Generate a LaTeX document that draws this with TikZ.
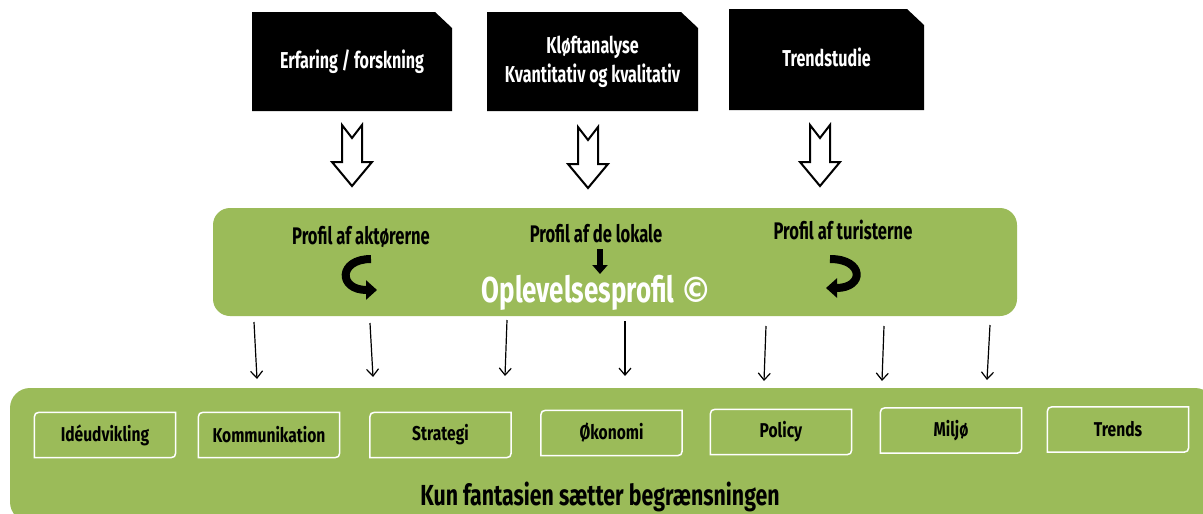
\documentclass[tikz,border=0pt]{standalone}
\usepackage{fontspec}
\setmainfont{Fira Sans}
\newfontfamily\dinA[FakeStretch=0.70,UprightFont=* Bold]{Fira Sans}
\newfontfamily\dinB[FakeStretch=0.78,UprightFont=* Bold]{Fira Sans}
\newfontfamily\dinC[FakeStretch=0.69,UprightFont=* Bold]{Fira Sans}
\newfontfamily\dinD[FakeStretch=0.72,UprightFont=* Bold]{Fira Sans}
\newfontfamily\dinE[FakeStretch=0.735,UprightFont=* Bold]{Fira Sans}
\newfontfamily\copyfont[FakeStretch=0.9,UprightFont=* Bold]{DejaVu Sans}
\usetikzlibrary{arrows.meta,calc}
\definecolor{olive}{HTML}{9BBB59}
\newcommand\txtsize[1]{\fontsize{#1}{#1}\selectfont}
\begin{document}
\begin{tikzpicture}[x=1pt,y=-1pt,
  topbox/.style={minimum width=#1, minimum height=99pt, inner sep=0pt, text=white, align=center,
    font=\dinA\fontsize{23}{29}\selectfont,
    path picture={\fill[black] (path picture bounding box.north west)
      -- ($(path picture bounding box.north east)+(-17,0)$)
      -- ($(path picture bounding box.north east)+(0,16)$)
      -- (path picture bounding box.south east)
      -- (path picture bounding box.south west) -- cycle;}},
  hollow/.pic={\draw[line width=2pt, fill=white, line join=miter]
      (-10,0) -- (0,13) -- (10,0) -- (10,37) -- (20,37) -- (0,61) -- (-20,37) -- (-10,37) -- cycle;},
  greenbox/.style={fill=olive, draw=none, inner sep=0pt},
  proftext/.style={font=\dinC\txtsize{24}, anchor=base, inner sep=0pt},
  subbox/.style={minimum width=141pt, minimum height=45pt, inner sep=0pt, font=\dinB\txtsize{20}},
  subline/.style={draw=white, line width=1.5pt},
  curv/.style={line width=8pt, -{Triangle[length=11pt,width=19pt]}},
  thinarr/.style={line width=1.2pt, -{Straight Barb[length=7pt,width=12pt]}}
]
\useasboundingbox (0,0) rectangle (1203,514);
\clip (0,0) rectangle (1203,514);

% top boxes
\node[topbox=200pt] (t1) at (352,61.5) {Erfaring / forskning};
\node[topbox=211pt] (t2) at (592.5,61.5) {Kløftanalyse\\Kvantitativ og kvalitativ};
\node[topbox=195pt, minimum height=101pt] (t3) at (826.5,59.5) {\raisebox{4pt}{Trendstudie}};

% hollow arrows
\pic at (352,125) {hollow};
\pic at (588,127) {hollow};
\pic at (820,125) {hollow};

% middle green box
\node[greenbox, minimum width=804pt, minimum height=108pt, rounded corners=17pt] (m) at (615,262) {};
\node[proftext] (p1) at (361,244) {Profil af aktørerne};
\node[proftext] (p2) at (596,242) {Profil af de lokale};
\node[proftext] (p3) at (843,239) {Profil af turisterne};
\node[font=\dinD\txtsize{36}, text=white, anchor=base, inner sep=0pt] (op) at (597,302) {Oplevelsesprofil {\copyfont\fontsize{35}{35}\selectfont ©}};

\draw[curv] (371,259) .. controls (338,259) and (338,290) .. (377,290);
\draw[curv] (830,259) .. controls (864.5,259) and (864.5,288) .. (826,288);
\draw[line width=6pt, -{Triangle[length=9pt,width=15pt]}] (600,249) -- (600,274);

% thin arrows
\foreach \a/\b/\c/\d in {254/322/257/379, 370/323/373/377, 507/320/505/376, 625/321/625/376,
                         766/326/764/381, 884/326/882/381, 990/325/987/380}
  \draw[thinarr] (\a,\b) -- (\c,\d);

% bottom band
\node[greenbox, minimum width=1205pt, minimum height=134pt, rounded corners=20pt] (band) at (612.5,455) {};
\node[font=\dinE\txtsize{29}, anchor=base, inner sep=0pt] (kun) at (600,505) {Kun fantasien sætter begrænsningen};

\node[subbox] (s1) at (105,435) {Idéudvikling};
\node[subbox] (s2) at (269,435) {Kommunikation};
\node[subbox] (s3) at (440.5,435) {Strategi};
\node[subbox] (s4) at (611.5,433) {Økonomi};
\node[subbox] (s5) at (781,432) {Policy};
\node[subbox] (s6) at (951,430.5) {Miljø};
\node[subbox] (s7) at (1118,429.5) {Trends};
\foreach \n in {s1,s2,s3,s4,s5,s6,s7}
  \draw[subline] ($(\n.north west)+(0,10)$) .. controls (\n.north west) .. ($(\n.north west)+(10,0)$)
     -- (\n.north east) -- ($(\n.south east)+(0,-10)$) .. controls (\n.south east) .. ($(\n.south east)+(-10,0)$)
     -- (\n.south west) -- cycle;
\end{tikzpicture}
\end{document}
